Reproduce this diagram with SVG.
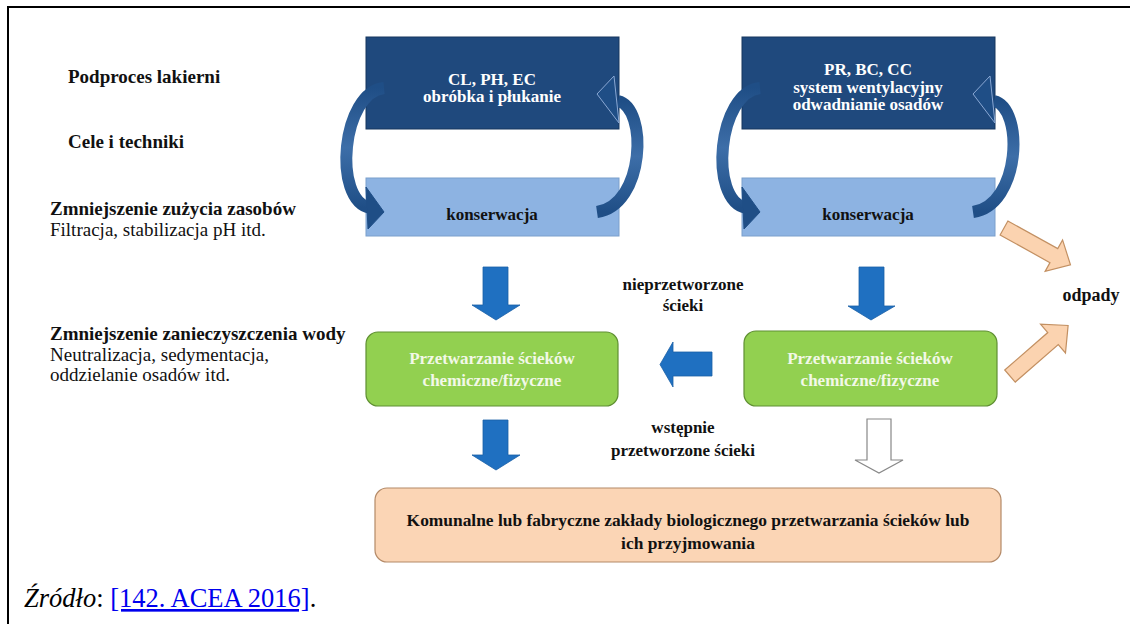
<svg xmlns="http://www.w3.org/2000/svg" width="1130" height="624" viewBox="0 0 1130 624">
<defs>
<linearGradient id="gc" x1="0" y1="0" x2="0" y2="1">
<stop offset="0" stop-color="#1f4e86"/>
<stop offset="0.5" stop-color="#3d6ea8"/>
<stop offset="1" stop-color="#1f4e86"/>
</linearGradient>
<style>
.lbl{font-family:Liberation Serif,Times New Roman,serif;font-size:19px;fill:#111}
.b{font-weight:bold}
.bx{font-family:Liberation Serif,Times New Roman,serif;font-size:17px;font-weight:bold;text-anchor:middle}
.dark{fill:#1f497d;stroke:#17375e;stroke-width:1}
.light{fill:#8db3e2;stroke:#7b9fcc;stroke-width:1}
.green{fill:#92d050;stroke:#5f8f32;stroke-width:1.2}
.peach{fill:#fbd5b5;stroke:#b48a68;stroke-width:1.2}
.barr{fill:#1f70c1;stroke:#1a5fa6;stroke-width:0.8}
.oarr{fill:#fbd3b0;stroke:#c39062;stroke-width:1.2}
.warr{fill:#ffffff;stroke:#888888;stroke-width:1.2}
.curve{fill:none;stroke:url(#gc);stroke-width:12}
.chead{fill:#1f4e86;stroke:#1f4e86;stroke-width:1}
.chead2{fill:#1f4e86;stroke:#8aa8d4;stroke-width:1}
</style>
<g id="curvepair">
<path class="curve" d="M384,88 C342,92 332,200 370,208"/>
<polygon class="chead" points="366,187 384,212 368,229"/>
<path class="curve" d="M597,212 C645,205 648,108 618,101"/>
<polygon class="chead2" points="614,76 597,94 619,123"/>
</g>
</defs>

<path d="M8,624 V7 H1130" fill="none" stroke="#000" stroke-width="2"/>

<g id="labels" font-family="Liberation Serif, Times New Roman, serif">
<text class="lbl b" x="68" y="83">Podproces lakierni</text>
<text class="lbl b" x="68" y="148">Cele i techniki</text>
<text class="lbl b" x="50" y="215">Zmniejszenie zużycia zasobów</text>
<text class="lbl" x="50" y="236">Filtracja, stabilizacja pH itd.</text>
<text class="lbl b" x="50" y="340">Zmniejszenie zanieczyszczenia wody</text>
<text class="lbl" x="50" y="361">Neutralizacja, sedymentacja,</text>
<text class="lbl" x="50" y="381">oddzielanie osadów itd.</text>
</g>

<g id="n-clphec" font-family="Liberation Serif, Times New Roman, serif">
<rect class="dark" x="366" y="37" width="253" height="92"/>
<text class="bx" x="492" y="85" fill="#fff">CL, PH, EC</text>
<text class="bx" x="492" y="102" fill="#fff">obróbka i płukanie</text>
</g>
<g id="n-prbccc" font-family="Liberation Serif, Times New Roman, serif">
<rect class="dark" x="742" y="37" width="253" height="92"/>
<text class="bx" x="868" y="75" fill="#fff">PR, BC, CC</text>
<text class="bx" x="868" y="93" fill="#fff">system wentylacyjny</text>
<text class="bx" x="868" y="110" fill="#fff">odwadnianie osadów</text>
</g>
<g id="n-kons1" font-family="Liberation Serif, Times New Roman, serif">
<rect class="light" x="366" y="178" width="253" height="58"/>
<text class="bx" x="492" y="220" fill="#111">konserwacja</text>
</g>
<g id="n-kons2" font-family="Liberation Serif, Times New Roman, serif">
<rect class="light" x="742" y="178" width="253" height="58"/>
<text class="bx" x="868" y="220" fill="#111">konserwacja</text>
</g>
<g id="n-green1" font-family="Liberation Serif, Times New Roman, serif">
<rect class="green" x="366" y="332" width="252" height="74" rx="12"/>
<text class="bx" x="492" y="364" fill="#f2f8e8">Przetwarzanie ścieków</text>
<text class="bx" x="492" y="386" fill="#f2f8e8">chemiczne/fizyczne</text>
</g>
<g id="n-green2" font-family="Liberation Serif, Times New Roman, serif">
<rect class="green" x="744" y="331" width="253" height="75" rx="12"/>
<text class="bx" x="870" y="364" fill="#f2f8e8">Przetwarzanie ścieków</text>
<text class="bx" x="870" y="386" fill="#f2f8e8">chemiczne/fizyczne</text>
</g>
<g id="n-bio" font-family="Liberation Serif, Times New Roman, serif">
<rect class="peach" x="375" y="488" width="626" height="74" rx="12"/>
<text class="bx" x="688" y="526" fill="#111" style="font-size:17.4px">Komunalne lub fabryczne zakłady biologicznego przetwarzania ścieków lub</text>
<text class="bx" x="688" y="549" fill="#111" style="font-size:17.4px">ich przyjmowania</text>
</g>
<g id="n-odpady" font-family="Liberation Serif, Times New Roman, serif">
<text class="bx" x="1091" y="301" fill="#111" style="font-size:18px">odpady</text>
</g>

<g id="connectors" font-family="Liberation Serif, Times New Roman, serif">
<use href="#curvepair"/>
<use href="#curvepair" transform="translate(376,0)"/>
<polygon class="barr" points="483,267 508,267 508,305 520,305 496,320 472,305 483,305"/>
<polygon class="barr" points="859,267 884,267 884,306 895,306 871,320 848,306 859,306"/>
<polygon class="barr" points="483,420 508,420 508,455 520,455 496,470 472,455 483,455"/>
<polygon class="barr" points="712,352 712,376 673,376 673,387 660,364.5 673,342 673,352"/>
<polygon class="warr" points="867,419 891,419 891,460 903,460 879,473 855,460 867,460"/>
<polygon class="oarr" transform="translate(1004,228) rotate(29)" points="0,-8 57,-8 57,-18 76,0 57,18 57,8 0,8"/>
<polygon class="oarr" transform="translate(1010,376) rotate(-41)" points="0,-8 57,-8 57,-19 77,0 57,19 57,8 0,8"/>
<text class="bx" x="683" y="290" fill="#111">nieprzetworzone</text>
<text class="bx" x="683" y="311" fill="#111">ścieki</text>
<text class="bx" x="683" y="433" fill="#111">wstępnie</text>
<text class="bx" x="683" y="456" fill="#111">przetworzone ścieki</text>
</g>

<g id="source">
<text x="24" y="607" font-family="Liberation Serif, Times New Roman, serif" font-size="26.5" fill="#000"><tspan font-style="italic">Źródło</tspan>: <tspan fill="#0000ee" text-decoration="underline">[142. ACEA 2016]</tspan>.</text>
</g>
</svg>
